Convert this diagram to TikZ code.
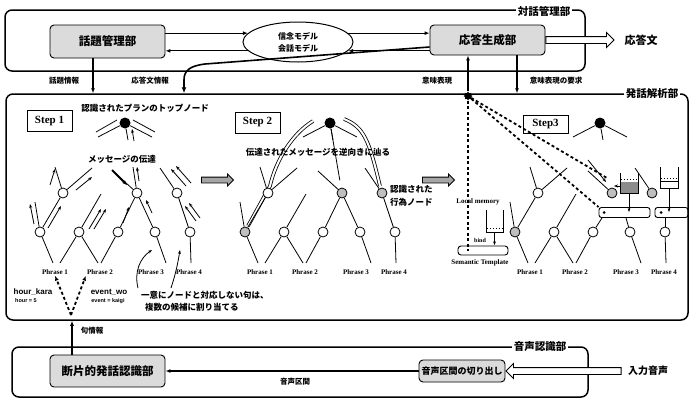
\documentclass[tikz,border=0pt]{standalone}
\usepackage{fontspec}
\setmainfont{Liberation Serif}
\newfontfamily\jp{Noto Sans CJK JP}
\newfontfamily\hv{Liberation Sans}
\usetikzlibrary{arrows.meta,shapes.arrows,shapes.geometric,calc}
\begin{document}
\begin{tikzpicture}[x=1pt,y=-1pt,
 frame/.style={draw,line width=1.5pt,rounded corners=7pt,inner sep=0pt},
 proc/.style={draw,line width=0.9pt,rounded corners=4pt,fill=black!14,font=\jp\bfseries\fontsize{11.5}{13}\selectfont,inner sep=0pt},
 model/.style={ellipse,draw,line width=1pt,minimum width=110pt,minimum height=40pt,inner sep=0pt,align=center,font=\jp\bfseries\fontsize{8}{12}\selectfont},
 lab/.style={font=\jp\bfseries\fontsize{7.5}{9}\selectfont,inner sep=1pt},
 ttl/.style={font=\jp\bfseries\fontsize{10.5}{12}\selectfont,fill=white,inner sep=1.5pt},
 note/.style={font=\jp\bfseries\fontsize{8.5}{12.5}\selectfont,inner sep=1pt},
 cn/.style={circle,draw,line width=0.8pt,fill=white,minimum size=10pt,inner sep=0pt},
 topn/.style={circle,fill=black,minimum size=11pt,inner sep=0pt},
 ph/.style={font=\bfseries\fontsize{7}{8}\selectfont,inner sep=1pt},
 stepbox/.style={draw,line width=1pt,font=\bfseries\fontsize{11}{12}\selectfont,minimum width=45pt,minimum height=21pt,inner sep=1pt},
 edge/.style={line width=0.8pt},
 msg/.style={line width=0.8pt,-{Stealth[length=4pt,width=3pt]}},
 arr/.style={line width=1.2pt,-{Latex[length=5pt,width=4pt]}},
 harr/.style={single arrow,draw,line width=0.9pt,fill=white,inner sep=3pt,single arrow head extend=4pt},
 darr/.style={single arrow,draw,line width=0.8pt,fill=black!35,inner sep=2.5pt,single arrow head extend=3pt,minimum height=32pt},
 dsh/.style={line width=1.8pt,dash pattern=on 3pt off 2.5pt},
 tmpl/.style={draw,line width=0.9pt,rounded corners=2.5pt,inner sep=0pt},
 small/.style={font=\bfseries\fontsize{7}{8}\selectfont,inner sep=1pt},
 sans/.style={font=\hv\bfseries\fontsize{8}{9}\selectfont,inner sep=0.5pt},
 tiny/.style={font=\hv\bfseries\fontsize{5.5}{6}\selectfont,inner sep=0.5pt}
]
\useasboundingbox (0,0) rectangle (691,399);

% ---------- frames
\node[frame,minimum width=580pt,minimum height=61pt] (f1) at (295,40.5) {};
\node[frame,minimum width=682pt,minimum height=226pt] (f2) at (347,207) {};
\node[frame,minimum width=576pt,minimum height=50pt] (f3) at (300,372) {};
\node[ttl] at (544,11) {対話管理部};
\node[ttl] at (652,94) {発話解析部};
\node[ttl] at (540,347) {音声認識部};

% ---------- dialogue management
\node[proc,minimum width=115pt,minimum height=33pt] (wd) at (107.5,41.5) {話題管理部};
\node[model] (el) at (298,42) {信念モデル\\会話モデル};
\node[proc,minimum width=115pt,minimum height=30pt] (og) at (487.5,40) {応答生成部};
\draw[arr] (wd.east |- el.170) -- (el.170);
\draw[arr] (el.190) -- (wd.east |- el.190);
\draw[arr] (el.10) -- (og.west |- el.10);
\draw[arr] (og.west |- el.350) -- (el.350);
\draw[line width=1.6pt,-{Latex[length=6pt,width=5pt]}] ($(og.west)+(0,7)$) -- (205,64) .. controls (189,66) and (184,71) .. (184,80) -- (f2.north -| 184,0);
\draw[arr] (wd.south -| 93,0) -- (f2.north -| 93,0);
\node[lab] at (64,81) {話題情報};
\node[lab] at (150,81) {応答文情報};
\node[harr,minimum height=68pt,anchor=tail] (outa) at (og.east) {};
\node[font=\jp\bfseries\fontsize{11}{12}\selectfont] at (641,40) {応答文};

% ---------- semantic representation arrows
\node[star,star points=8,fill=black,minimum size=9pt,inner sep=0pt] (burst) at (468,96) {};
\draw[arr] (burst) -- (og.south -| burst);
\draw[arr] (og.south -| 517,0) -- (f2.north -| 517,0);
\node[lab] at (437,81) {意味表現};
\node[lab] at (556,81) {意味表現の要求};

% ---------- step boxes
\node[stepbox] (st1) at (49.5,121) {Step 1};
\node[stepbox] (st2) at (257.5,122.5) {Step 2};
\node[stepbox,minimum height=18pt] (st3) at (545.5,124) {Step3};
\node[darr] (h1) at (216,180) {};
\node[darr] (h2) at (437,180) {};

% step 2 traced path
\draw[line width=0.8pt,double=white,double distance=2pt] (313,121) .. controls (292,134) and (276,160) .. (270,186) -- (248,226);
\draw[line width=0.8pt,double=white,double distance=2pt] (344,119) .. controls (364,127) and (369,140) .. (380,186);

% ---------- trees
\foreach \k/\dx/\fc in {1/0/white,2/205/black!25,3/475/black!25}{
  \node[topn] (s\k T) at ({125+\dx},123) {};
  \node[cn] (s\k A) at ({63+\dx},193) {};
  \node[cn,fill=\fc] (s\k B) at ({137+\dx},193) {};
  \node[cn,fill=\fc] (s\k C) at ({177+\dx},193) {};
  \node[cn,fill=\fc] (s\k D) at ({40+\dx},232) {};
  \node[cn] (s\k E) at ({79+\dx},232) {};
  \node[cn] (s\k F) at ({118+\dx},232) {};
  \node[cn] (s\k G) at ({155+\dx},232) {};
  \node[cn] (s\k H) at ({190+\dx},232) {};
  \node[ph] (s\k p1) at ({55+\dx},272) {Phrase 1};
  \node[ph] (s\k p2) at ({100+\dx},272) {Phrase 2};
  \node[ph] (s\k p3) at ({151+\dx},272) {Phrase 3};
  \node[ph] (s\k p4) at ({189+\dx},272) {Phrase 4};
  \draw[edge] (s\k T) -- ++(-27,14);
  \draw[edge] (s\k T) -- ++(27,14);
  \draw[edge] (s\k T) -- ++(3,17);
  \draw[edge] (s\k A) -- (s\k D);
  \draw[edge] (s\k A) -- ++(29,-25);
  \draw[edge] (s\k A) ++(-8,-26) -- (s\k A);
  \draw[edge] (s\k D) ++(-5,-30) -- (s\k D);
  \draw[edge] (s\k E) -- ++(22,-38);
  \draw[edge] (s\k B) ++(-24,-22) -- (s\k B);
  \draw[edge] (s\k C) ++(-17,-25) -- (s\k C);
  \draw[edge] (s\k D) -- ({53+\dx},263);
  \draw[edge] (s\k E) -- ({60+\dx},263);
  \draw[edge] (s\k E) -- ({98+\dx},263);
  \draw[edge] (s\k F) -- ({101+\dx},263);
  \draw[edge] (s\k G) -- ({166+\dx},263);
  \draw[edge] (s\k H) -- ({191+\dx},263);
}
\foreach \k in {1,2}{
  \draw[edge] (s\k B) -- (s\k F);
  \draw[edge] (s\k B) -- (s\k G);
  \draw[edge] (s\k C) -- (s\k H);
}
\draw[edge] (s1B) ++(-4,-26) -- (s1B);
\draw[edge] (s2T) -- ($(s2T)!0.82!(s2B)$);

% step 1 texts and messages
\node[note] at (145,108) {認識されたプランのトップノード};
\node[note] at (122,159) {メッセージの伝達};
\draw[edge] (117,120) -- (96,132);
\draw[edge] (133,120) -- (155,132);
\draw[msg] (34,224) -- (30,204);
\draw[msg] (48,228) -- (61,206);
\draw[msg] (50,185) -- (55,169);
\draw[msg] (76,190) -- (92,177);
\draw[msg] (89,229) -- (101,209);
\draw[msg] (94,229) -- (106,209);
\draw[line width=1.8pt,-{Stealth[length=5pt]}] (112,170) -- (127,185);
\draw[msg] (134,141) -- (132,129);
\draw[msg] (139,181) -- (137,167);
\draw[msg] (123,223) -- (129,207);
\draw[msg] (152,213) -- (146,200);
\draw[msg] (186,186) -- (171,169);
\draw[msg] (191,183) -- (176,166);
\draw[msg] (200,218) -- (189,203);
\draw[msg] (196,221) -- (185,206);
\draw[msg] (138,288) .. controls (134,272) and (140,258) .. (152,250);
\draw[msg] (171,288) .. controls (176,273) and (178,262) .. (180,250);

% step 2 texts
\node[note] at (318,152) {伝達されたメッセージを逆向きに辿る};
\node[note,anchor=west,align=left] at (389,196) {認識された\\行為ノード};

% step 3 : local memory
\node[tmpl,minimum width=50pt,minimum height=9pt,rounded corners=3pt] (lt) at (483,250.5) {};
\node[small] at (480,263) {Semantic Template};
\node[small] at (478,202) {Local memory};
\draw[line width=0.9pt] (486,210) -- (486,232) -- (503,232) -- (503,210);
\draw[line width=0.9pt,dotted] (487,228) -- (502,228);
\coordinate (lcup) at (494.5,232);
\draw[line width=0.8pt,-{Latex[length=4pt,width=3pt]}] (lcup) -- (lt.north -| lcup);
\node[small,font=\bfseries\fontsize{6}{7}\selectfont] at (480,240) {bind};
\draw[dsh] (burst) -- (lt.center -| burst);

% step 3 : templates on tree
\node[tmpl,minimum width=51pt,minimum height=10pt] (tb1) at (624.5,212.5) {};
\node[tmpl,minimum width=33pt,minimum height=10pt] (tb2) at (671.5,212.5) {};
\fill (604,212.5) circle (1.5pt);
\fill (661,212.5) circle (1.5pt);
\draw[line width=0.9pt] (620,173) -- (620,193) -- (638,193) -- (638,173);
\fill[black!45] (620.5,182) rectangle (637.5,192.5);
\draw[line width=1pt,dotted] (621,179) -- (637,179);
\draw[line width=0.9pt] (660,167) -- (660,188) -- (678,188) -- (678,167);
\draw[line width=1pt,dotted] (661,178) -- (677,178);
\draw[line width=0.6pt] (660,181) -- (678,181);
\coordinate (c1) at (629,193);
\coordinate (c2) at (669,188);
\draw[line width=0.8pt,-{Latex[length=4pt,width=3pt]}] (c1) -- (tb1.center -| c1);
\draw[line width=0.8pt,-{Latex[length=4pt,width=3pt]}] (c2) -- (tb2.center -| c2);
\draw[edge] (s3F) -- (tb1.south -| 602,0);
\draw[edge] (s3G) -- (tb1.south -| 626,0);
\draw[edge] (s3H) -- (tb2.south -| s3H);
\draw[msg] (588,160) -- (606,182);
\draw[msg] (621,186) -- (614,186);
\draw[dsh] (burst) -- (607,178);
\draw[dsh] (burst) -- (tb1.north west);

% ---------- bottom : speech recognition
\node[proc,minimum width=115pt,minimum height=32pt] (dan) at (107.5,371) {断片的発話認識部};
\node[proc,minimum width=86pt,minimum height=22pt,font=\jp\bfseries\fontsize{9}{10}\selectfont] (kiri) at (462,371) {音声区間の切り出し};
\draw[arr] (kiri.west) -- (dan.east);
\node[lab] at (295,382) {音声区間};
\node[harr,shape border rotate=180,minimum height=115pt,anchor=tip] (ina) at (kiri.east) {};
\node[font=\jp\bfseries\fontsize{10}{12}\selectfont] at (648,371) {入力音声};
\draw[arr] (dan.north -| 72,0) -- (f2.south -| 72,0);
\node[lab] at (92,331) {句情報};
\coordinate (qj) at (71,315);
\draw[dsh,-{Latex[length=5pt,width=4pt]}] (qj) -- (s1p1.south);
\draw[dsh,-{Latex[length=5pt,width=4pt]}] (qj) -- (s1p2.south west);
\node[sans] at (33,292) {hour\_kara};
\node[tiny] at (26,301) {hour = 5};
\node[sans] at (109,292) {event\_wo};
\node[tiny] at (108,301) {event = kaigi};
\node[note,anchor=north west,align=left] at (140,290) {一意にノードと対応しない句は、\\\hspace{4pt}複数の候補に割り当てる};
\end{tikzpicture}
\end{document}
